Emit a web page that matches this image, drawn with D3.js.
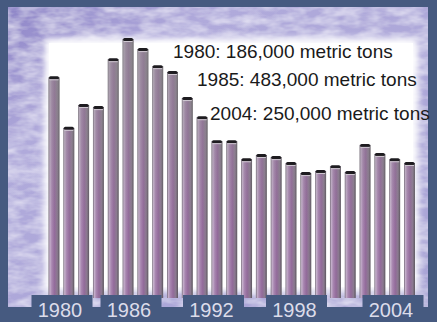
<!DOCTYPE html>
<html><head><meta charset="utf-8">
<script src="https://cdn.jsdelivr.net/npm/d3@7"></script>
<style>
html,body{margin:0;padding:0;background:#465a80;}
svg{display:block;}
</style></head>
<body>
<svg id="c" width="437" height="322"></svg>
<script>
// ---- data (metric tons) ----
const years = [1980,1981,1982,1983,1984,1985,1986,1987,1988,1989,1990,1991,1992,1993,1994,1995,1996,1997,1998,1999,2000,2001,2002,2003,2004];
const catchTons = [411000,316000,359000,355000,445000,483000,464000,432000,421000,372000,336000,291000,291000,257000,265000,261000,250000,231000,235000,244000,233000,284000,267000,257000,250000];
const tickYears = [1980,1986,1992,1998,2004];
const notes = ["1980: 186,000 metric tons","1985: 483,000 metric tons","2004: 250,000 metric tons"];

const svg = d3.select("#c");
const W = 437, H = 322;
const defs = svg.append("defs");

// texture filter for lavender frame
const tex = defs.append("filter").attr("id","tex").attr("x",0).attr("y",0).attr("width","100%").attr("height","100%");
tex.append("feTurbulence").attr("type","fractalNoise").attr("baseFrequency","0.05 0.12").attr("numOctaves",3).attr("seed",7).attr("result","n");
tex.append("feColorMatrix").attr("in","n").attr("type","matrix")
  .attr("values","0 0 0 0 0.90  0 0 0 0 0.89  0 0 0 0 0.97  0 0 0 1.1 -0.35").attr("result","m");
tex.append("feComposite").attr("in","m").attr("in2","SourceGraphic").attr("operator","in").attr("result","mm");
tex.append("feMerge").call(m=>{m.append("feMergeNode").attr("in","SourceGraphic");m.append("feMergeNode").attr("in","mm");});

const blur = defs.append("filter").attr("id","soft").attr("x","-10%").attr("y","-10%").attr("width","120%").attr("height","120%");
blur.append("feGaussianBlur").attr("stdDeviation",3.5);

// frame gradient
const fg = defs.append("linearGradient").attr("id","fg").attr("x1",0).attr("y1",0).attr("x2",1).attr("y2",1);
fg.append("stop").attr("offset","0%").attr("stop-color","#8f86c8");
fg.append("stop").attr("offset","25%").attr("stop-color","#b0aadb");
fg.append("stop").attr("offset","100%").attr("stop-color","#a9a4d6");

// bar gradients
const bg = defs.append("linearGradient").attr("id","barH").attr("x1",0).attr("y1",0).attr("x2",1).attr("y2",0);
[["0%","#6f6573"],["12%","#c6b2cc"],["30%","#a886b0"],["55%","#936b9b"],["80%","#8b7a90"],["100%","#5b555d"]]
  .forEach(s=>bg.append("stop").attr("offset",s[0]).attr("stop-color",s[1]));
const gv = defs.append("linearGradient").attr("id","barV").attr("gradientUnits","userSpaceOnUse").attr("x1",0).attr("y1",35).attr("x2",0).attr("y2",230);
gv.append("stop").attr("offset","0%").attr("stop-color","#8e8e8e").attr("stop-opacity",0.6);
gv.append("stop").attr("offset","100%").attr("stop-color","#8e8e8e").attr("stop-opacity",0);

// lavender frame
svg.append("rect").attr("x",8).attr("y",7).attr("width",420).attr("height",300).attr("fill","url(#fg)").attr("filter","url(#tex)");
// white plot area (soft edges)
svg.append("rect").attr("x",44).attr("y",38).attr("width",374).attr("height",254).attr("fill","#ffffff").attr("filter","url(#soft)");
svg.append("rect").attr("x",49).attr("y",43).attr("width",364).attr("height",244).attr("fill","#ffffff");

// scales
const x = d3.scaleBand().domain(years).range([46.6,416.9]).paddingInner(0.26).paddingOuter(0.13);
const y = d3.scaleLinear().domain([0,483000]).range([296,39]);
const xl = d3.scaleLinear().domain(tickYears).range([60,129,211.5,294.5,391]);

const data = years.map((yr,i)=>({yr, v:catchTons[i]}));
const g = svg.append("g");
const bars = g.selectAll("g.bar").data(data).join("g").attr("class","bar");
bars.append("rect").attr("x",d=>x(d.yr)).attr("y",d=>y(d.v)).attr("width",x.bandwidth()).attr("height",d=>y(0)-y(d.v)+2).attr("fill","url(#barH)");
bars.append("rect").attr("x",d=>x(d.yr)).attr("y",d=>y(d.v)).attr("width",x.bandwidth()).attr("height",d=>y(0)-y(d.v)+2).attr("fill","url(#barV)");
bars.append("rect").attr("x",d=>x(d.yr)+0.5).attr("y",d=>y(d.v)-1).attr("width",x.bandwidth()-1).attr("height",3).attr("rx",1.5).attr("fill","#1e1c20");
bars.append("rect").attr("x",d=>x(d.yr)+1).attr("y",d=>y(d.v)+2).attr("width",x.bandwidth()-2).attr("height",1).attr("fill","#d0c8d2");

// blue label tabs
const tabW = 61;
svg.selectAll("rect.tab").data(tickYears).join("rect").attr("class","tab")
  .attr("x",d=>xl(d)+2-tabW/2).attr("y",295).attr("width",tabW).attr("height",30).attr("fill","#465a80");
svg.append("rect").attr("x",0).attr("y",307).attr("width",W).attr("height",15).attr("fill","#465a80");
svg.selectAll("text.tick").data(tickYears).join("text").attr("class","tick")
  .attr("x",d=>xl(d)).attr("y",317).attr("text-anchor","middle")
  .attr("font-family","'Liberation Sans Narrow','Arial Narrow',sans-serif").attr("font-stretch","condensed")
  .attr("font-size",20).attr("fill","#dcdcea").text(d=>d);

// annotations
const notePos = [[173,58],[197,86],[210,120]];
svg.selectAll("text.note").data(notes).join("text").attr("class","note")
  .attr("x",(d,i)=>notePos[i][0]).attr("y",(d,i)=>notePos[i][1])
  .attr("font-family","'Liberation Sans',Arial,sans-serif").attr("font-size",19)
  .attr("fill","#1a1a1a").text(d=>d);
</script>
</body></html>
